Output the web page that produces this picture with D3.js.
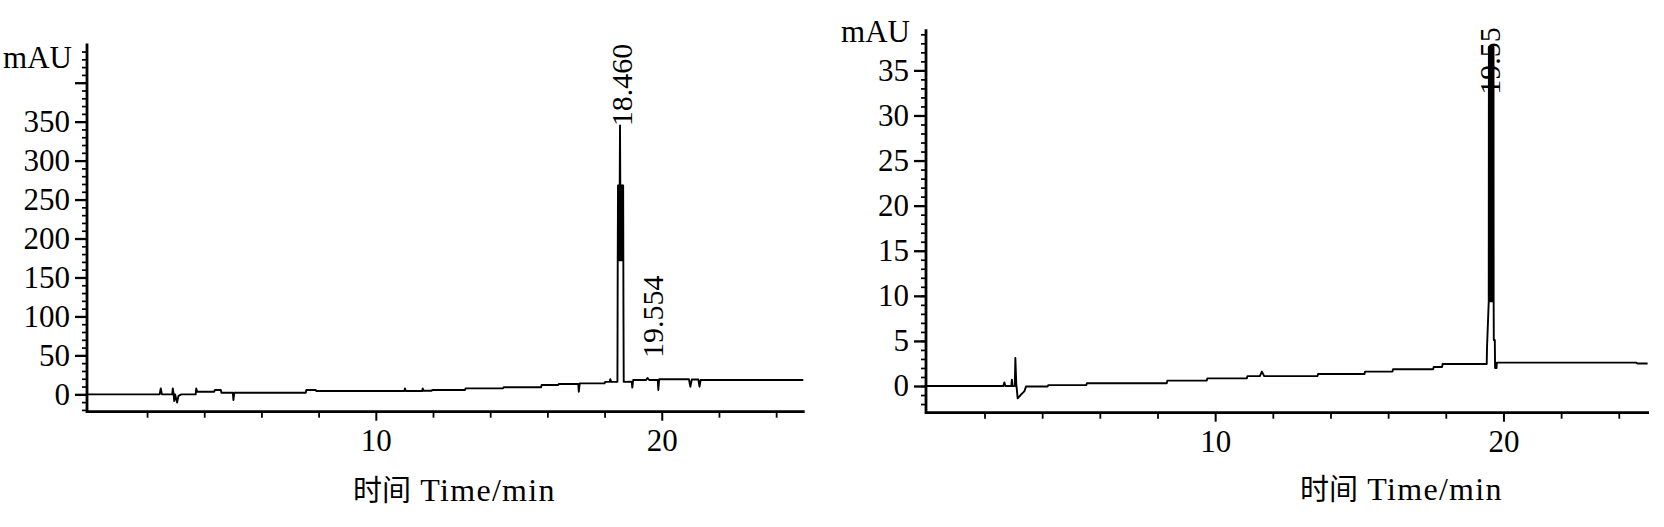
<!DOCTYPE html>
<html><head><meta charset="utf-8">
<script src="https://cdn.jsdelivr.net/npm/d3@7"></script>
<style>
html,body{margin:0;padding:0;background:#fff;}
svg{display:block;}
text{font-family:"Liberation Serif","Times New Roman",serif;fill:#000;}
</style></head><body>
<svg id="chart" width="1664" height="527"></svg>
<script>
// ---------------- DATA ----------------
// x axis (time, min)
const xMajorTicks = [10, 20];
const xMajorLabels = ["10", "20"];
const xMinorTicks = [2, 4, 6, 8, 12, 14, 16, 18, 22, 24];

// Left chromatogram (A)
const yMajorTicksA = [0, 50, 100, 150, 200, 250, 300, 350, 400];
const yMajorLabelsA = ["0", "50", "100", "150", "200", "250", "300", "350", ""];
const traceA = [
  [-0.1, 0], [2.44, 0], [2.48, 7.5], [2.52, 0],
  [2.88, 0], [2.90, 7.5], [2.93, 0], [2.95, -8.5], [2.98, 0], [3.05, -10.5], [3.10, -2], [3.20, 0],
  [3.70, 0], [3.72, 7.5], [3.75, 3.3],
  [4.35, 3.3], [4.37, 5.5], [4.58, 5.5], [4.60, 2],
  [5.00, 2], [5.02, -7.3], [5.05, 2],
  [7.55, 2], [7.57, 5.5], [7.90, 5.5], [7.92, 4.2],
  [11.00, 4.2], [11.02, 7.5], [11.05, 4.2],
  [11.62, 4.2], [11.64, 7.5], [11.67, 4.5],
  [11.95, 4.5], [11.97, 5.5],
  [13.12, 5.5], [13.14, 7.7],
  [14.45, 7.7], [14.47, 9],
  [15.78, 9], [15.80, 12],
  [16.38, 12], [16.40, 13.2],
  [17.08, 13.2], [17.10, 3.3], [17.13, 14],
  [18.00, 14], [18.02, 16],
  [18.18, 16], [18.20, 19.5], [18.23, 16],
  [18.45, 16], [18.46, 170], [18.47, 268], [18.48, 172], [18.49, 268], [18.50, 172], [18.51, 268],
  [18.52, 172], [18.53, 268], [18.54, 345], [18.55, 268], [18.56, 172], [18.57, 268], [18.58, 172],
  [18.59, 268], [18.60, 172], [18.61, 268], [18.62, 172], [18.63, 268], [18.64, 172], [18.65, 268],
  [18.66, 113], [18.67, 16],
  [18.95, 16.2], [18.97, 8.6], [19.00, 18.4],
  [19.45, 18.4], [19.50, 21], [19.56, 18.4],
  [19.86, 18.4], [19.88, 5.5], [19.91, 19.3],
  [20.95, 19.3], [21.00, 9.8], [21.05, 19], [21.28, 19], [21.32, 9.8], [21.36, 18.4],
  [24.95, 18.4]
];
const peakTextsA = ["18.460", "19.554"];
const peakTimesA = [18.46, 19.554];
const peakLevelsA = [344, 46.6];

// Right chromatogram (B)
const yMajorTicksB = [0, 5, 10, 15, 20, 25, 30, 35];
const yMajorLabelsB = ["0", "5", "10", "15", "20", "25", "30", "35"];
const traceB = [
  [-0.03, 0], [2.65, 0], [2.69, 0.4], [2.72, 0],
  [2.93, 0], [2.95, 0.7], [2.97, 0],
  [3.05, 0], [3.07, 3.1], [3.10, 0.3], [3.15, -1.37], [3.25, -1.0], [3.38, -0.6], [3.44, -0.05],
  [4.19, -0.05], [4.21, 0.1],
  [5.53, 0.1], [5.55, 0.3],
  [8.32, 0.3], [8.34, 0.6],
  [9.71, 0.6], [9.73, 0.85],
  [11.10, 0.85], [11.12, 1.1],
  [11.55, 1.1], [11.62, 1.6], [11.70, 1.1],
  [13.55, 1.1], [13.57, 1.33],
  [15.18, 1.33], [15.20, 1.6],
  [16.15, 1.6], [16.17, 1.85],
  [17.56, 1.85], [17.58, 2.1],
  [17.87, 2.1], [17.89, 2.44],
  [19.42, 2.44], [19.43, 4.3], [19.49, 9.4],
  [19.495, 37.6], [19.505, 9.4], [19.515, 37.6], [19.525, 9.4], [19.535, 37.6], [19.545, 9.4],
  [19.555, 37.6], [19.565, 9.4], [19.575, 37.6], [19.585, 9.4], [19.595, 37.6], [19.605, 9.4],
  [19.615, 37.6], [19.625, 9.4], [19.635, 37.6], [19.645, 9.4], [19.655, 37.6], [19.66, 9.4],
  [19.665, 5.1], [19.70, 5.1], [19.71, 2.0], [19.76, 2.0], [19.77, 2.59],
  [24.60, 2.59], [24.65, 2.5], [25.0, 2.5]
];
const peakTextsB = ["19.55"];
const peakTimesB = [19.55];
const peakLevelsB = [32.3];

const yUnit = "mAU";
const xTitleCN = "时间";
const xTitleEN = " Time/min";

// ---------------- LAYOUT ----------------
const panels = [
  { trace: traceA, xDomain: [-0.1, 24.95], xRange: [87, 803.3], yDomain: [-22.3, 448.4], yRange: [411.7, 45],
    yMajor: yMajorTicksA, yLabels: yMajorLabelsA, yMinorStep: 10,
    peakTexts: peakTextsA, peakTimes: peakTimesA, peakLevels: peakLevelsA, labelDx: 14,
    unitPos: [72, 68], titlePos: [353, 501] },
  { trace: traceB, xDomain: [-0.03, 25], xRange: [926, 1647.6], yDomain: [-2.96, 39.4], yRange: [412.7, 30.7],
    yMajor: yMajorTicksB, yLabels: yMajorLabelsB, yMinorStep: 1,
    peakTexts: peakTextsB, peakTimes: peakTimesB, peakLevels: peakLevelsB, labelDx: 10,
    unitPos: [910, 41.7], titlePos: [1300, 500] }
];

const svg = d3.select("#chart");
const FS = 31;

panels.forEach(p => {
  const x = d3.scaleLinear().domain(p.xDomain).range(p.xRange);
  const y = d3.scaleLinear().domain(p.yDomain).range(p.yRange);
  const g = svg.append("g");
  const x0 = p.xRange[0], yb = p.yRange[0];

  // minor y ticks
  const yMinor = d3.range(Math.ceil(p.yDomain[0] / p.yMinorStep) * p.yMinorStep, p.yDomain[1], p.yMinorStep);
  const gyMinor = g.append("g").attr("transform", `translate(${x0},0)`)
    .call(d3.axisLeft(y).tickValues(yMinor).tickSize(5).tickSizeOuter(0).tickFormat(""));
  gyMinor.select(".domain").remove();
  gyMinor.selectAll("line").attr("stroke", "#000").attr("stroke-width", 1.7);

  // major y ticks
  const gy = g.append("g").attr("transform", `translate(${x0},0)`)
    .call(d3.axisLeft(y).tickValues(p.yMajor).tickSize(12).tickPadding(5).tickSizeOuter(0)
      .tickFormat((d, i) => p.yLabels[i]));
  gy.select(".domain").remove();
  gy.selectAll("line").attr("stroke", "#000").attr("stroke-width", 2.3);
  gy.selectAll("text").attr("font-size", FS).attr("font-family", "Liberation Serif").attr("fill", "#000");

  // minor x ticks
  const gxMinor = g.append("g").attr("transform", `translate(0,${yb})`)
    .call(d3.axisBottom(x).tickValues(xMinorTicks).tickSize(6).tickSizeOuter(0).tickFormat(""));
  gxMinor.select(".domain").remove();
  gxMinor.selectAll("line").attr("stroke", "#000").attr("stroke-width", 1.8);

  // major x ticks
  const gx = g.append("g").attr("transform", `translate(0,${yb})`)
    .call(d3.axisBottom(x).tickValues(xMajorTicks).tickSize(9).tickPadding(8).tickSizeOuter(0)
      .tickFormat((d, i) => xMajorLabels[i]));
  gx.select(".domain").remove();
  gx.selectAll("line").attr("stroke", "#000").attr("stroke-width", 2);
  gx.selectAll("text").attr("font-size", FS).attr("font-family", "Liberation Serif").attr("fill", "#000");

  // axis lines
  g.append("path")
    .attr("d", `M${x0},${p.yRange[1]}V${yb}H${p.xRange[1]}`)
    .attr("fill", "none").attr("stroke", "#000").attr("stroke-width", 2.8).attr("stroke-linecap", "square");

  // trace
  const line = d3.line().x(d => x(d[0])).y(d => y(d[1]));
  g.append("path").datum(p.trace).attr("d", line)
    .attr("fill", "none").attr("stroke", "#000").attr("stroke-width", 1.9).attr("stroke-linejoin", "round");

  // peak labels
  p.peakTexts.forEach((t, i) => {
    g.append("text")
      .attr("transform", `translate(${x(p.peakTimes[i]) + p.labelDx},${y(p.peakLevels[i])}) rotate(-90)`)
      .attr("text-anchor", "start").attr("font-size", 30).text(t);
  });

  // unit
  g.append("text").attr("x", p.unitPos[0]).attr("y", p.unitPos[1])
    .attr("text-anchor", "end").attr("font-size", FS).text(yUnit);

  // x title
  const tt = g.append("text").attr("x", p.titlePos[0]).attr("y", p.titlePos[1]).attr("font-size", 30);
  tt.append("tspan").attr("font-family", "'Noto Sans CJK SC'").attr("font-size", 29).text(xTitleCN);
  tt.append("tspan").attr("font-family", "Liberation Serif").attr("font-size", 32)
    .attr("letter-spacing", 1.3).text(xTitleEN);
});
</script>
</body></html>
